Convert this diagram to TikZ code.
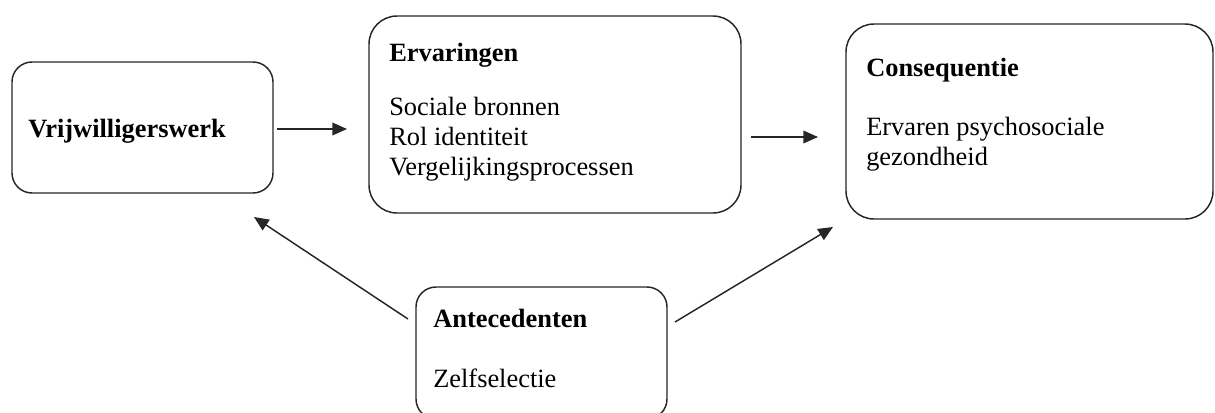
\documentclass[tikz,border=0pt]{standalone}
\usepackage{fontspec}
\setmainfont{Liberation Serif}
\usetikzlibrary{arrows.meta}
\begin{document}
\begin{tikzpicture}[x=0.75pt,y=-0.75pt,
  box/.style={draw=black!85, line width=1.1pt, rectangle, inner sep=0pt},
  txt/.style={anchor=base west, inner sep=0pt, font=\fontsize{19.8}{22.5}\selectfont},
  hd/.style={txt, font=\fontsize{19.8}{22.5}\selectfont\bfseries},
  arr/.style={draw=black!85, line width=1.1pt, -{Triangle[length=11pt,width=9.5pt]}}]
\useasboundingbox (0,0) rectangle (1215,412);
\clip (0,0) rectangle (1215,412);
% boxes
\node[box, rounded corners=15pt, minimum width={261*0.75pt}, minimum height={131*0.75pt}] (vw) at (142.5,127.5) {};
\node[box, rounded corners=21pt, minimum width={372*0.75pt}, minimum height={197*0.75pt}] (erv) at (555,114.5) {};
\node[box, rounded corners=21pt, minimum width={367*0.75pt}, minimum height={195*0.75pt}] (con) at (1029.5,121.5) {};
\node[box, rounded corners=15pt, minimum width={251*0.75pt}, minimum height={132*0.75pt}] (ant) at (541.5,353) {};
% texts
\node[hd] (t1) at (28,137) {Vrijwilligerswerk};
\node[hd] (t2) at (389,61) {Ervaringen};
\node[txt] (t2a) at (389,115) {Sociale bronnen};
\node[txt] (t2b) at (389,145) {Rol identiteit};
\node[txt] (t2c) at (389,175) {Vergelijkingsprocessen};
\node[hd] (t3) at (866,76) {Consequentie};
\node[txt] (t3a) at (866,135) {Ervaren psychosociale};
\node[txt] (t3b) at (866,165) {gezondheid};
\node[hd] (t4) at (433,327) {Antecedenten};
\node[txt] (t4a) at (433,387) {Zelfselectie};
% connector ends
\coordinate (a1s) at (277,129);
\coordinate (a1e) at (347,129);
\coordinate (a2s) at (751,137);
\coordinate (a2e) at (818,137);
\coordinate (a3s) at (408,319);
\coordinate (a3e) at (254,217);
\coordinate (a4s) at (675,322);
\coordinate (a4e) at (833,227);
\draw[arr] (a1s) -- (a1e);
\draw[arr] (a2s) -- (a2e);
\draw[arr] (a3s) -- (a3e);
\draw[arr] (a4s) -- (a4e);
\end{tikzpicture}
\end{document}
